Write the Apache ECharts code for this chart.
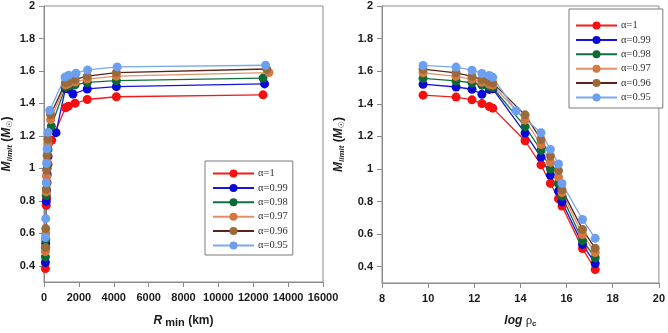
<!DOCTYPE html>
<html>
<head>
<meta charset="utf-8">
<script src="https://cdn.jsdelivr.net/npm/echarts@6/dist/echarts.min.js"></script>
<style>
html,body{margin:0;padding:0;background:#fff;}
#main{width:668px;height:333px;}
</style>
</head>
<body>
<div id="main"></div>
<script>
// names of the curves
var names = ['α=1','α=0.99','α=0.98','α=0.97','α=0.96','α=0.95'];
var dotColors = ['#f50f0f','#0a0ad8','#0c6a34','#d5773f','#9a6a3a','#6c9ff0'];
var lineColors = ['#f51a1a','#1414e0','#127040','#e39068','#5a2418','#78a8f2'];

// log rho_c (right panel)
var logRho   = [9.78,11.21,11.90,12.33,12.65,12.80,14.20,14.89,15.30,15.65,15.80,16.69,17.24];
var logRhoLB = [9.78,11.21,11.90,12.33,12.65,12.80,13.81,14.89,15.30,15.65,15.80,16.69,17.24];

// R min in km (left panel)
var r100 = [12560,4150,2480,1780,1400,1230,440,230,180,150,130,100,80];
var r099 = [12650,4150,2480,1660,1400,1230,690,230,180,150,130,100,80];
var r098 = [12560,4150,2480,1780,1400,1230,420,230,180,150,130,100,80];
var r097 = [12900,4150,2480,1780,1400,1230,380,230,180,150,130,100,80];
var r096 = [12770,4150,2480,1780,1400,1230,380,230,180,150,130,100,80];
var r095 = [12710,4200,2500,1835,1417,1204,330,230,180,150,130,100,80];

// M limit
var m100 = [1.453,1.441,1.424,1.401,1.383,1.373,1.173,1.025,0.911,0.817,0.772,0.511,0.383];
var m099 = [1.520,1.503,1.489,1.458,1.488,1.492,1.220,1.073,0.962,0.864,0.797,0.537,0.420];
var m098 = [1.556,1.540,1.529,1.514,1.505,1.500,1.260,1.115,1.000,0.911,0.833,0.561,0.455];
var m097 = [1.590,1.568,1.550,1.532,1.520,1.514,1.300,1.150,1.040,0.950,0.855,0.598,0.487];
var m096 = [1.612,1.590,1.568,1.548,1.535,1.528,1.332,1.181,1.079,0.990,0.873,0.629,0.513];
var m095 = [1.635,1.625,1.606,1.586,1.574,1.562,1.357,1.222,1.120,1.030,0.911,0.690,0.574];

var yTicks = [0.4,0.6,0.8,1,1.2,1.4,1.6,1.8,2];

var rList = [r100,r099,r098,r097,r096,r095];
var mList = [m100,m099,m098,m097,m096,m095];
var rhoList = [logRho,logRho,logRho,logRho,logRho,logRhoLB];

function pairs(xs, ys){
    var out = [];
    for(var i=0;i<xs.length;i++){
        out.push([xs[i], ys[i]]);
    }
    return out;
}

var series = [];
for(var k=0;k<names.length;k++){
    series.push({
        name:names[k], type:'line', xAxisIndex:0, yAxisIndex:0,
        data:pairs(rList[k], mList[k]),
        symbol:'circle', symbolSize:9, showAllSymbol:true,
        itemStyle:{color:dotColors[k]},
        lineStyle:{color:lineColors[k], width:1.3},
        animation:false
    });
}
for(var k=0;k<names.length;k++){
    series.push({
        name:names[k], type:'line', xAxisIndex:1, yAxisIndex:1,
        data:pairs(rhoList[k], mList[k]),
        symbol:'circle', symbolSize:9, showAllSymbol:true,
        itemStyle:{color:dotColors[k]},
        lineStyle:{color:lineColors[k], width:1.3},
        animation:false
    });
}

var axisGray = '#8c8c8c';
var lblStyle = {fontFamily:'Liberation Sans', fontWeight:'bold', fontSize:11, color:'#1a1a1a'};

function plain(v){ return String(v); }

function yAxisOpt(idx, gap){
    return {
        type:'value', gridIndex:idx, min:0.3, max:2,
        axisLine:{show:true, lineStyle:{color:axisGray}},
        axisTick:{show:true, inside:false, length:5, lineStyle:{color:axisGray}, customValues:yTicks},
        axisLabel:Object.assign({margin:9, customValues:yTicks, formatter:plain}, lblStyle),
        splitLine:{show:false},
        name:'{mi|M}{sub|limit}{n| (}{mi|M}{sub2|☉}{n|)}',
        nameLocation:'middle', nameGap:gap,
        nameTextStyle:{
            rich:{
                mi:{fontFamily:'Liberation Sans', fontStyle:'italic', fontWeight:'bold', fontSize:12, color:'#1a1a1a'},
                sub:{fontFamily:'Liberation Sans', fontStyle:'italic', fontWeight:'bold', fontSize:8, color:'#1a1a1a', verticalAlign:'bottom', padding:[6,0,0,0]},
                sub2:{fontFamily:'DejaVu Sans', fontSize:8, color:'#1a1a1a', verticalAlign:'bottom', padding:[6,0,0,0]},
                n:{fontFamily:'Liberation Sans', fontWeight:'bold', fontSize:12, color:'#1a1a1a'}
            }
        }
    };
}

function legendOpt(left, top, pad){
    return {
        orient:'vertical', left:left, top:top,
        data:names,
        itemWidth:41, itemHeight:10, itemGap:3.4,
        padding:pad,
        borderColor:'#7a7a7a', borderWidth:1, backgroundColor:'#fff',
        textStyle:{fontFamily:'Liberation Serif', fontSize:10.5, color:'#333', padding:[0,0,0,-1]},
        selectedMode:false
    };
}

var chart = echarts.init(document.getElementById('main'));
chart.setOption({
    backgroundColor:'#fff',
    animation:false,
    grid:[
        {left:44, right:345, top:6, bottom:47, show:true, borderColor:axisGray, borderWidth:1, backgroundColor:'transparent'},
        {left:382, right:8, top:6, bottom:47, show:true, borderColor:axisGray, borderWidth:1, backgroundColor:'transparent'}
    ],
    legend:[
        legendOpt(205, 161, [7,5,4,7]),
        legendOpt(569, 9, [11,12,5,6])
    ],
    xAxis:[
        {
            type:'value', gridIndex:0, min:0, max:16000, interval:2000,
            axisLine:{show:true, onZero:false, lineStyle:{color:axisGray}},
            axisTick:{show:true, length:5, lineStyle:{color:axisGray}},
            axisLabel:Object.assign({margin:10, formatter:plain}, lblStyle),
            splitLine:{show:false},
            name:'{i|R}{s| min}{n| (km)}',
            nameLocation:'middle', nameGap:31,
            nameTextStyle:{rich:{
                i:{fontFamily:'Liberation Sans', fontStyle:'italic', fontWeight:'bold', fontSize:12, color:'#1a1a1a'},
                s:{fontFamily:'Liberation Sans', fontWeight:'bold', fontSize:11, color:'#1a1a1a', verticalAlign:'bottom', padding:[4,0,0,0]},
                n:{fontFamily:'Liberation Sans', fontWeight:'bold', fontSize:12, color:'#1a1a1a'}
            }}
        },
        {
            type:'value', gridIndex:1, min:8, max:20, interval:2,
            axisLine:{show:true, onZero:false, lineStyle:{color:axisGray}},
            axisTick:{show:true, length:5, lineStyle:{color:axisGray}},
            axisLabel:Object.assign({margin:10, formatter:plain}, lblStyle),
            splitLine:{show:false},
            name:'{i|log }{g|ρ}{s|c}',
            nameLocation:'middle', nameGap:31,
            nameTextStyle:{rich:{
                i:{fontFamily:'Liberation Sans', fontStyle:'italic', fontWeight:'bold', fontSize:12, color:'#1a1a1a'},
                g:{fontFamily:'Liberation Serif', fontSize:13, color:'#1a1a1a'},
                s:{fontFamily:'Liberation Sans', fontWeight:'bold', fontSize:8, color:'#1a1a1a', verticalAlign:'bottom', padding:[6,0,0,0]}
            }}
        }
    ],
    yAxis:[yAxisOpt(0, 30), yAxisOpt(1, 36)],
    series:series
});
</script>
</body>
</html>
